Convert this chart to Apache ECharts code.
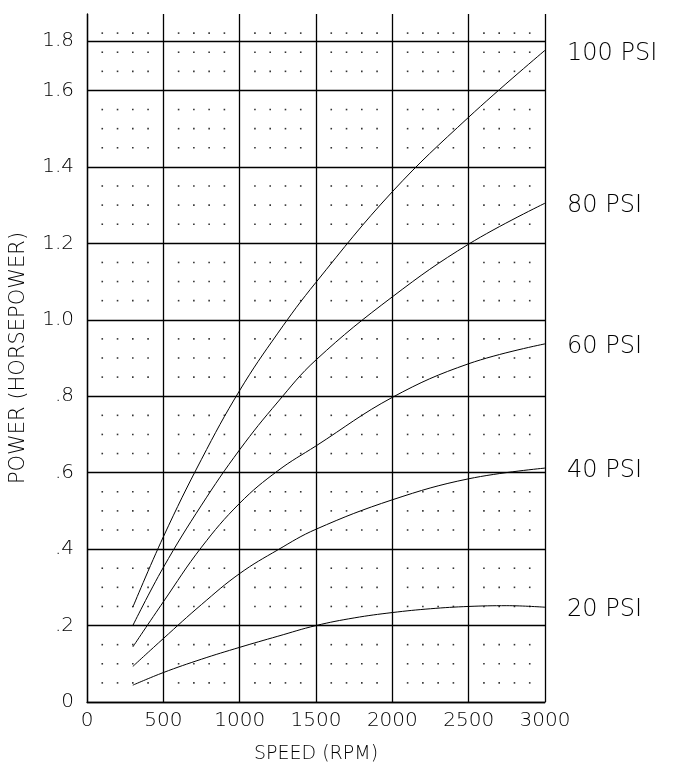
<!DOCTYPE html>
<html>
<head>
<meta charset="utf-8">
<script src="https://cdn.jsdelivr.net/npm/echarts@6/dist/echarts.min.js"></script>
<style>
html,body{margin:0;padding:0;background:#fff;}
#chart{width:677px;height:784px;}
</style>
</head>
<body>
<div id="chart"></div>
<script>
// ---- data ----
const seriesNames = ['100 PSI', '80 PSI', '60 PSI', '40 PSI', '20 PSI'];
const psi100 = [[300,0.248],[500,0.432],[750,0.635],[1000,0.815],[1250,0.965],[1500,1.098],[2000,1.335],[2500,1.530],[3000,1.705]];
const psi80  = [[300,0.200],[500,0.352],[750,0.515],[1000,0.660],[1250,0.785],[1500,0.895],[2000,1.060],[2500,1.198],[3000,1.305]];
const psi60  = [[300,0.144],[500,0.262],[750,0.405],[1000,0.520],[1250,0.605],[1500,0.670],[2000,0.797],[2500,0.885],[3000,0.937]];
const psi40  = [[300,0.093],[500,0.166],[750,0.255],[1000,0.336],[1250,0.398],[1500,0.452],[2000,0.529],[2500,0.584],[3000,0.612]];
const psi20  = [[300,0.044],[500,0.077],[750,0.112],[1000,0.143],[1250,0.172],[1500,0.200],[1750,0.220],[2000,0.234],[2250,0.244],[2500,0.250],[2750,0.252],[3000,0.248]];
const yTickLabels = ['0', '.2', '.4', '.6', '.8', '1.0', '1.2', '1.4', '1.6'];
const topLineValue = 1.725;   // the line labelled "1.8" sits below the frame top
const topLineLabel = '1.8';
const xMin = 0, xMax = 3000, xStep = 500, xMinor = 100;
const yMin = 0, yMax = 1.8, yStep = 0.2, yMinor = 0.05;

// decorative dot grid (minor grid points, not data)
const dots = [];
for (let i = 1; i * xMinor < xMax; i++) {
  const x = i * xMinor;
  if (x % xStep === 0) continue;
  for (let j = 1; j * yMinor < yMax - 1e-9; j++) {
    if (j % 4 === 0) continue;
    dots.push([x, +(j * yMinor).toFixed(3)]);
  }
}

const FONT = "'DejaVu Sans ExtraLight', 'DejaVu Sans'";
const FW = 200;
const all = [psi100, psi80, psi60, psi40, psi20];

const chart = echarts.init(document.getElementById('chart'), null, {renderer: 'canvas'});
const option = {
  backgroundColor: '#fff',
  animation: false,
  grid: {left: 83, right: 132, top: 14, bottom: 82, containLabel: false},
  xAxis: {
    type: 'value', min: xMin, max: xMax, interval: xStep,
    name: 'SPEED (RPM)', nameLocation: 'middle', nameGap: 43,
    nameTextStyle: {fontFamily: FONT, fontWeight: FW, fontSize: 19, color: '#000'},
    axisLine: {show: true, lineStyle: {color: '#000', width: 1.3}},
    axisTick: {show: false},
    axisLabel: {fontFamily: FONT, fontWeight: FW, fontSize: 20, color: '#000', margin: 9,
                formatter: function (v) { return String(v); }},
    splitLine: {show: true, showMinLine: true, showMaxLine: true, lineStyle: {color: '#000', width: 1.3}}
  },
  yAxis: {
    type: 'value', min: yMin, max: yMax, interval: yStep,
    name: 'POWER (HORSEPOWER)', nameLocation: 'middle', nameGap: 58,
    nameTextStyle: {fontFamily: FONT, fontWeight: FW, fontSize: 21, color: '#000'},
    axisLine: {show: true, lineStyle: {color: '#000', width: 1.3}},
    axisTick: {show: false},
    axisLabel: {
      fontFamily: FONT, fontWeight: FW, fontSize: 20, color: '#000', margin: 13,
      showMaxLabel: false,
      formatter: function (v) {
        const idx = Math.round(v / yStep);
        return yTickLabels[idx] !== undefined ? yTickLabels[idx] : '';
      }
    },
    splitLine: {show: true, showMaxLine: false, lineStyle: {color: '#000', width: 1.3}}
  },
  series: [
    {
      type: 'scatter', name: 'dots', data: dots, symbol: 'rect', symbolSize: 1.6,
      itemStyle: {color: '#000'}, silent: true, z: 1,
      markLine: {
        silent: true, symbol: 'none', animation: false,
        lineStyle: {color: '#000', width: 1.3, type: 'solid'},
        label: {show: true, position: 'start', formatter: topLineLabel, distance: 13,
                fontFamily: FONT, fontWeight: FW, fontSize: 20, color: '#000'},
        data: [{yAxis: topLineValue}]
      }
    }
  ].concat(all.map(function (d, k) {
    return {
      type: 'line', name: seriesNames[k], data: d, smooth: 0.4,
      showSymbol: false,
      lineStyle: {color: '#000', width: 1}, z: 3, silent: true,
      endLabel: {show: true, formatter: '{a}', distance: 22, offset: [0, 3],
                 fontFamily: FONT, fontWeight: FW, fontSize: 24, color: '#000'}
    };
  }))
};
chart.setOption(option);
</script>
</body>
</html>
